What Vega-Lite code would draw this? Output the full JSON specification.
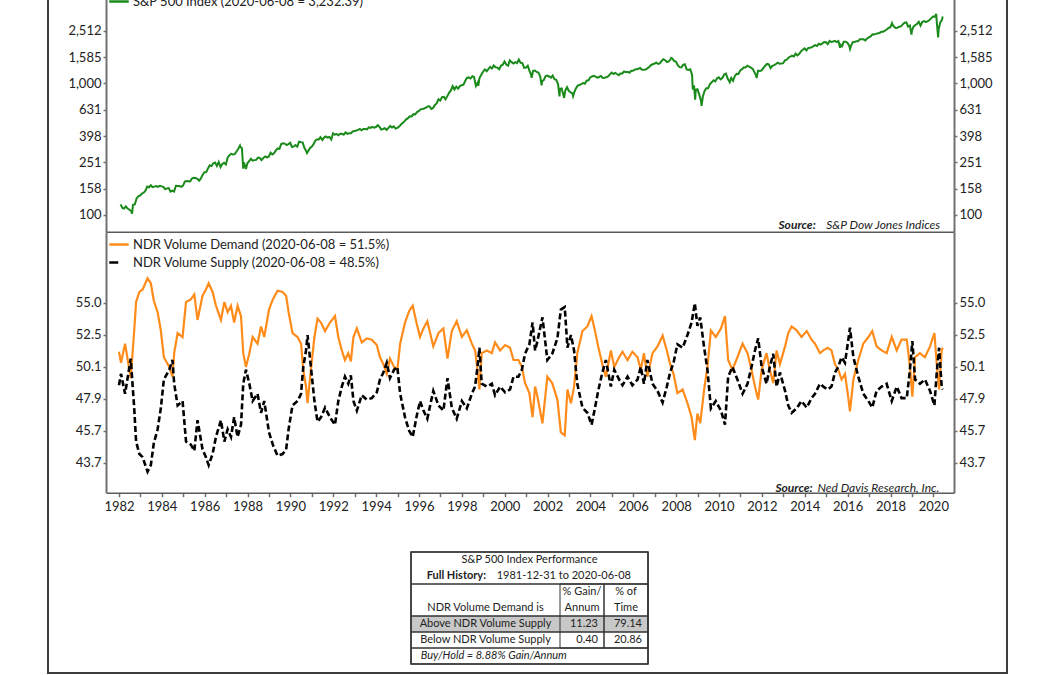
{
"$schema": "https://vega.github.io/schema/vega-lite/v6.json",
"width": 959, "height": 683,
"autosize": {"type": "none"},
"padding": {"left": 48, "right": 49, "top": -10, "bottom": 2},
"background": "white",
"config": {
  "font": "Lato",
  "view": {"stroke": "#3c3c3c", "strokeWidth": 2},
  "axis": {"labelFont": "Lato", "labelFontSize": 13, "labelColor": "#222222", "domainColor": "#707070", "domainWidth": 2, "tickColor": "#707070", "tickWidth": 1.5, "tickSize": 3, "labelPadding": 2, "grid": false, "labelFlush": false, "labelOverlap": false},
  "legend": {"labelFont": "Lato", "labelFontSize": 13, "labelColor": "#222222", "symbolType": "stroke", "symbolSize": 380, "symbolStrokeWidth": 2.5, "labelOffset": 3, "padding": 0, "rowPadding": -1.3, "offset": 0, "labelLimit": 400},
  "text": {"font": "Lato", "color": "#222222"}
},
"datasets": {
"sp": [
{"d":"1982-01-28","v":120.4},{"d":"1982-02-28","v":113.1},{"d":"1982-03-28","v":111.96},{"d":"1982-04-28","v":116.4},{"d":"1982-05-28","v":111.9},{"d":"1982-06-28","v":109.6},{"d":"1982-07-28","v":107.1},{"d":"1982-08-12","v":102.4},{"d":"1982-08-28","v":119.5},{"d":"1982-09-28","v":120.4},{"d":"1982-10-28","v":133.7},{"d":"1982-11-28","v":138.5},{"d":"1982-12-28","v":140.6},
{"d":"1983-01-28","v":145.3},{"d":"1983-02-28","v":148.1},{"d":"1983-03-28","v":152.96},{"d":"1983-04-28","v":164.4},{"d":"1983-05-28","v":162.4},{"d":"1983-06-28","v":168.1},{"d":"1983-07-28","v":162.6},{"d":"1983-08-28","v":164.4},{"d":"1983-09-28","v":166.1},{"d":"1983-10-28","v":163.6},{"d":"1983-11-28","v":166.4},{"d":"1983-12-28","v":164.9},
{"d":"1984-01-28","v":163.4},{"d":"1984-02-28","v":157.1},{"d":"1984-03-28","v":159.2},{"d":"1984-04-28","v":160.05},{"d":"1984-05-28","v":150.55},{"d":"1984-06-28","v":153.2},{"d":"1984-07-28","v":150.7},{"d":"1984-08-28","v":166.7},{"d":"1984-09-28","v":166.1},{"d":"1984-10-28","v":166.1},{"d":"1984-11-28","v":163.6},{"d":"1984-12-28","v":167.2},
{"d":"1985-01-28","v":179.6},{"d":"1985-02-28","v":181.2},{"d":"1985-03-28","v":180.7},{"d":"1985-04-28","v":179.8},{"d":"1985-05-28","v":189.55},{"d":"1985-06-28","v":191.85},{"d":"1985-07-28","v":190.9},{"d":"1985-08-28","v":188.6},{"d":"1985-09-28","v":182.1},{"d":"1985-10-28","v":189.8},{"d":"1985-11-28","v":202.2},{"d":"1985-12-28","v":211.3},
{"d":"1986-01-28","v":211.8},{"d":"1986-02-28","v":226.9},{"d":"1986-03-28","v":238.9},{"d":"1986-04-28","v":235.5},{"d":"1986-05-28","v":247.35},{"d":"1986-06-28","v":250.8},{"d":"1986-07-28","v":236.1},{"d":"1986-08-28","v":252.9},{"d":"1986-09-28","v":231.3},{"d":"1986-10-28","v":244.0},{"d":"1986-11-28","v":249.2},{"d":"1986-12-28","v":242.2},
{"d":"1987-01-28","v":274.1},{"d":"1987-02-28","v":284.2},{"d":"1987-03-28","v":291.7},{"d":"1987-04-28","v":288.4},{"d":"1987-05-28","v":290.1},{"d":"1987-06-28","v":304.0},{"d":"1987-07-28","v":318.7},{"d":"1987-08-25","v":336.8},{"d":"1987-08-31","v":329.8},{"d":"1987-09-28","v":321.8},{"d":"1987-10-19","v":224.8},{"d":"1987-10-30","v":251.8},{"d":"1987-11-28","v":230.3},{"d":"1987-12-04","v":223.9},{"d":"1987-12-30","v":247.1},
{"d":"1988-01-28","v":257.1},{"d":"1988-02-28","v":267.8},{"d":"1988-03-28","v":258.9},{"d":"1988-04-28","v":261.3},{"d":"1988-05-28","v":262.2},{"d":"1988-06-28","v":273.5},{"d":"1988-07-28","v":272.0},{"d":"1988-08-28","v":261.5},{"d":"1988-09-28","v":271.9},{"d":"1988-10-28","v":279.0},{"d":"1988-11-28","v":273.7},{"d":"1988-12-28","v":277.7},
{"d":"1989-01-28","v":297.5},{"d":"1989-02-28","v":288.9},{"d":"1989-03-28","v":294.9},{"d":"1989-04-28","v":309.6},{"d":"1989-05-28","v":320.5},{"d":"1989-06-28","v":318.0},{"d":"1989-07-28","v":346.1},{"d":"1989-08-28","v":351.45},{"d":"1989-09-28","v":349.2},{"d":"1989-10-28","v":340.4},{"d":"1989-11-28","v":346.0},{"d":"1989-12-28","v":353.4},
{"d":"1990-01-28","v":329.1},{"d":"1990-02-28","v":331.9},{"d":"1990-03-28","v":339.9},{"d":"1990-04-28","v":330.8},{"d":"1990-05-28","v":361.2},{"d":"1990-06-28","v":358.0},{"d":"1990-07-28","v":356.2},{"d":"1990-08-28","v":322.6},{"d":"1990-09-28","v":306.05},{"d":"1990-10-11","v":295.5},{"d":"1990-10-28","v":304.0},{"d":"1990-11-28","v":322.2},{"d":"1990-12-28","v":330.2},
{"d":"1991-01-28","v":343.9},{"d":"1991-02-28","v":367.1},{"d":"1991-03-28","v":375.2},{"d":"1991-04-28","v":375.3},{"d":"1991-05-28","v":389.8},{"d":"1991-06-28","v":371.2},{"d":"1991-07-28","v":387.8},{"d":"1991-08-28","v":395.4},{"d":"1991-09-28","v":387.9},{"d":"1991-10-28","v":392.5},{"d":"1991-11-28","v":375.2},{"d":"1991-12-28","v":417.1},
{"d":"1992-01-28","v":408.8},{"d":"1992-02-28","v":412.7},{"d":"1992-03-28","v":403.7},{"d":"1992-04-28","v":414.95},{"d":"1992-05-28","v":415.35},{"d":"1992-06-28","v":408.1},{"d":"1992-07-28","v":424.2},{"d":"1992-08-28","v":414.0},{"d":"1992-09-28","v":417.8},{"d":"1992-10-28","v":418.7},{"d":"1992-11-28","v":431.35},{"d":"1992-12-28","v":435.7},
{"d":"1993-01-28","v":438.8},{"d":"1993-02-28","v":443.4},{"d":"1993-03-28","v":451.7},{"d":"1993-04-28","v":440.2},{"d":"1993-05-28","v":450.2},{"d":"1993-06-28","v":450.5},{"d":"1993-07-28","v":448.1},{"d":"1993-08-28","v":463.6},{"d":"1993-09-28","v":458.9},{"d":"1993-10-28","v":467.8},{"d":"1993-11-28","v":461.8},{"d":"1993-12-28","v":466.45},
{"d":"1994-01-28","v":481.6},{"d":"1994-02-28","v":467.1},{"d":"1994-03-28","v":445.8},{"d":"1994-04-28","v":450.9},{"d":"1994-05-28","v":456.5},{"d":"1994-06-28","v":444.3},{"d":"1994-07-28","v":458.3},{"d":"1994-08-28","v":475.5},{"d":"1994-09-28","v":462.7},{"d":"1994-10-28","v":472.35},{"d":"1994-11-28","v":453.7},{"d":"1994-12-28","v":459.3},
{"d":"1995-01-28","v":470.4},{"d":"1995-02-28","v":487.4},{"d":"1995-03-28","v":500.7},{"d":"1995-04-28","v":514.7},{"d":"1995-05-28","v":533.4},{"d":"1995-06-28","v":544.75},{"d":"1995-07-28","v":562.1},{"d":"1995-08-28","v":561.9},{"d":"1995-09-28","v":584.4},{"d":"1995-10-28","v":581.5},{"d":"1995-11-28","v":605.4},{"d":"1995-12-28","v":615.9},
{"d":"1996-01-28","v":636.0},{"d":"1996-02-28","v":640.4},{"d":"1996-03-28","v":645.5},{"d":"1996-04-28","v":654.2},{"d":"1996-05-28","v":669.1},{"d":"1996-06-28","v":670.6},{"d":"1996-07-28","v":640.0},{"d":"1996-08-28","v":652.0},{"d":"1996-09-28","v":687.3},{"d":"1996-10-28","v":705.3},{"d":"1996-11-28","v":757.0},{"d":"1996-12-28","v":740.7},
{"d":"1997-01-28","v":786.2},{"d":"1997-02-28","v":790.8},{"d":"1997-03-28","v":757.1},{"d":"1997-04-28","v":801.3},{"d":"1997-05-28","v":848.3},{"d":"1997-06-28","v":885.1},{"d":"1997-07-28","v":954.3},{"d":"1997-08-28","v":899.5},{"d":"1997-09-28","v":947.3},{"d":"1997-10-28","v":914.6},{"d":"1997-11-28","v":955.4},{"d":"1997-12-28","v":970.4},
{"d":"1998-01-28","v":980.3},{"d":"1998-02-28","v":1049.3},{"d":"1998-03-28","v":1101.75},{"d":"1998-04-28","v":1111.75},{"d":"1998-05-28","v":1090.8},{"d":"1998-06-28","v":1133.8},{"d":"1998-07-28","v":1120.7},{"d":"1998-08-28","v":957.3},{"d":"1998-09-28","v":1017.0},{"d":"1998-10-08","v":959.4},{"d":"1998-10-28","v":1098.7},{"d":"1998-11-28","v":1163.6},{"d":"1998-12-28","v":1229.2},
{"d":"1999-01-28","v":1279.6},{"d":"1999-02-28","v":1238.3},{"d":"1999-03-28","v":1286.4},{"d":"1999-04-28","v":1335.2},{"d":"1999-05-28","v":1301.8},{"d":"1999-06-28","v":1372.7},{"d":"1999-07-28","v":1328.7},{"d":"1999-08-28","v":1320.4},{"d":"1999-09-28","v":1282.7},{"d":"1999-10-28","v":1362.9},{"d":"1999-11-28","v":1388.9},{"d":"1999-12-28","v":1469.25},
{"d":"2000-01-28","v":1394.5},{"d":"2000-02-28","v":1366.4},{"d":"2000-03-28","v":1498.6},{"d":"2000-04-28","v":1452.4},{"d":"2000-05-28","v":1420.6},{"d":"2000-06-28","v":1454.6},{"d":"2000-07-28","v":1430.8},{"d":"2000-08-28","v":1517.7},{"d":"2000-09-28","v":1436.5},{"d":"2000-10-28","v":1429.4},{"d":"2000-11-28","v":1315.2},{"d":"2000-12-28","v":1320.3},
{"d":"2001-01-28","v":1366.0},{"d":"2001-02-28","v":1239.9},{"d":"2001-03-28","v":1160.3},{"d":"2001-04-04","v":1103.3},{"d":"2001-04-28","v":1249.5},{"d":"2001-05-28","v":1255.8},{"d":"2001-06-28","v":1224.4},{"d":"2001-07-28","v":1211.2},{"d":"2001-08-28","v":1133.6},{"d":"2001-09-21","v":965.8},{"d":"2001-09-30","v":1040.9},{"d":"2001-10-28","v":1059.8},{"d":"2001-11-28","v":1139.5},{"d":"2001-12-28","v":1148.1},
{"d":"2002-01-28","v":1130.2},{"d":"2002-02-28","v":1106.7},{"d":"2002-03-28","v":1147.4},{"d":"2002-04-28","v":1076.9},{"d":"2002-05-28","v":1067.1},{"d":"2002-06-28","v":989.8},{"d":"2002-07-23","v":797.7},{"d":"2002-07-31","v":911.6},{"d":"2002-08-28","v":916.1},{"d":"2002-09-28","v":815.3},{"d":"2002-10-09","v":776.8},{"d":"2002-10-31","v":885.8},{"d":"2002-11-28","v":936.3},{"d":"2002-12-28","v":879.8},
{"d":"2003-01-28","v":855.7},{"d":"2003-02-28","v":841.2},{"d":"2003-03-11","v":800.7},{"d":"2003-03-28","v":848.2},{"d":"2003-04-28","v":916.9},{"d":"2003-05-28","v":963.6},{"d":"2003-06-28","v":974.5},{"d":"2003-07-28","v":990.3},{"d":"2003-08-28","v":1008.0},{"d":"2003-09-28","v":996.0},{"d":"2003-10-28","v":1050.7},{"d":"2003-11-28","v":1058.2},{"d":"2003-12-28","v":1111.9},
{"d":"2004-01-28","v":1131.1},{"d":"2004-02-28","v":1144.9},{"d":"2004-03-28","v":1126.2},{"d":"2004-04-28","v":1107.3},{"d":"2004-05-28","v":1120.7},{"d":"2004-06-28","v":1140.8},{"d":"2004-07-28","v":1101.7},{"d":"2004-08-28","v":1104.2},{"d":"2004-09-28","v":1114.6},{"d":"2004-10-28","v":1130.2},{"d":"2004-11-28","v":1173.8},{"d":"2004-12-28","v":1211.9},
{"d":"2005-01-28","v":1181.3},{"d":"2005-02-28","v":1203.6},{"d":"2005-03-28","v":1180.6},{"d":"2005-04-28","v":1156.85},{"d":"2005-05-28","v":1191.5},{"d":"2005-06-28","v":1191.3},{"d":"2005-07-28","v":1234.2},{"d":"2005-08-28","v":1220.3},{"d":"2005-09-28","v":1228.8},{"d":"2005-10-28","v":1207.0},{"d":"2005-11-28","v":1249.5},{"d":"2005-12-28","v":1248.3},
{"d":"2006-01-28","v":1280.1},{"d":"2006-02-28","v":1280.7},{"d":"2006-03-28","v":1294.8},{"d":"2006-04-28","v":1310.6},{"d":"2006-05-28","v":1270.1},{"d":"2006-06-28","v":1270.2},{"d":"2006-07-28","v":1276.7},{"d":"2006-08-28","v":1303.8},{"d":"2006-09-28","v":1335.85},{"d":"2006-10-28","v":1377.9},{"d":"2006-11-28","v":1400.6},{"d":"2006-12-28","v":1418.3},
{"d":"2007-01-28","v":1438.2},{"d":"2007-02-28","v":1406.8},{"d":"2007-03-28","v":1420.9},{"d":"2007-04-28","v":1482.4},{"d":"2007-05-28","v":1530.6},{"d":"2007-06-28","v":1503.35},{"d":"2007-07-28","v":1455.3},{"d":"2007-08-28","v":1474.0},{"d":"2007-09-28","v":1526.75},{"d":"2007-10-09","v":1565.2},{"d":"2007-10-28","v":1549.4},{"d":"2007-11-28","v":1481.1},{"d":"2007-12-28","v":1468.4},
{"d":"2008-01-28","v":1378.55},{"d":"2008-02-28","v":1330.6},{"d":"2008-03-28","v":1322.7},{"d":"2008-04-28","v":1385.6},{"d":"2008-05-28","v":1400.4},{"d":"2008-06-28","v":1280.0},{"d":"2008-07-28","v":1267.4},{"d":"2008-08-28","v":1282.8},{"d":"2008-09-28","v":1166.4},{"d":"2008-10-10","v":899.2},{"d":"2008-10-31","v":968.75},{"d":"2008-11-20","v":752.4},{"d":"2008-11-30","v":896.2},{"d":"2008-12-28","v":903.25},
{"d":"2009-01-28","v":825.9},{"d":"2009-02-28","v":735.1},{"d":"2009-03-09","v":676.5},{"d":"2009-03-31","v":797.9},{"d":"2009-04-28","v":872.8},{"d":"2009-05-28","v":919.1},{"d":"2009-06-28","v":919.3},{"d":"2009-07-28","v":987.5},{"d":"2009-08-28","v":1020.6},{"d":"2009-09-28","v":1057.1},{"d":"2009-10-28","v":1036.2},{"d":"2009-11-28","v":1095.6},{"d":"2009-12-28","v":1115.1},
{"d":"2010-01-28","v":1073.9},{"d":"2010-02-28","v":1104.5},{"d":"2010-03-28","v":1169.4},{"d":"2010-04-28","v":1186.7},{"d":"2010-05-28","v":1089.4},{"d":"2010-06-28","v":1030.7},{"d":"2010-07-02","v":1022.6},{"d":"2010-07-28","v":1101.6},{"d":"2010-08-28","v":1049.3},{"d":"2010-09-28","v":1141.2},{"d":"2010-10-28","v":1183.3},{"d":"2010-11-28","v":1180.55},{"d":"2010-12-28","v":1257.6},
{"d":"2011-01-28","v":1286.1},{"d":"2011-02-28","v":1327.2},{"d":"2011-03-28","v":1325.8},{"d":"2011-04-28","v":1363.6},{"d":"2011-05-28","v":1345.2},{"d":"2011-06-28","v":1320.6},{"d":"2011-07-28","v":1292.3},{"d":"2011-08-28","v":1218.9},{"d":"2011-09-28","v":1131.4},{"d":"2011-10-03","v":1099.2},{"d":"2011-10-28","v":1253.3},{"d":"2011-11-28","v":1247.0},{"d":"2011-12-28","v":1257.6},
{"d":"2012-01-28","v":1312.4},{"d":"2012-02-28","v":1365.7},{"d":"2012-03-28","v":1408.5},{"d":"2012-04-28","v":1397.9},{"d":"2012-05-28","v":1310.3},{"d":"2012-06-28","v":1362.2},{"d":"2012-07-28","v":1379.3},{"d":"2012-08-28","v":1406.6},{"d":"2012-09-28","v":1440.7},{"d":"2012-10-28","v":1412.2},{"d":"2012-11-28","v":1416.2},{"d":"2012-12-28","v":1426.2},
{"d":"2013-01-28","v":1498.1},{"d":"2013-02-28","v":1514.7},{"d":"2013-03-28","v":1569.2},{"d":"2013-04-28","v":1597.6},{"d":"2013-05-28","v":1630.7},{"d":"2013-06-28","v":1606.3},{"d":"2013-07-28","v":1685.7},{"d":"2013-08-28","v":1633.0},{"d":"2013-09-28","v":1681.55},{"d":"2013-10-28","v":1756.5},{"d":"2013-11-28","v":1805.8},{"d":"2013-12-28","v":1848.4},
{"d":"2014-01-28","v":1782.6},{"d":"2014-02-28","v":1859.45},{"d":"2014-03-28","v":1872.3},{"d":"2014-04-28","v":1883.95},{"d":"2014-05-28","v":1923.6},{"d":"2014-06-28","v":1960.2},{"d":"2014-07-28","v":1930.7},{"d":"2014-08-28","v":2003.4},{"d":"2014-09-28","v":1972.3},{"d":"2014-10-28","v":2018.05},{"d":"2014-11-28","v":2067.6},{"d":"2014-12-28","v":2058.9},
{"d":"2015-01-28","v":1995.0},{"d":"2015-02-28","v":2104.5},{"d":"2015-03-28","v":2067.9},{"d":"2015-04-28","v":2085.5},{"d":"2015-05-28","v":2107.4},{"d":"2015-06-28","v":2063.1},{"d":"2015-07-28","v":2103.8},{"d":"2015-08-25","v":1867.6},{"d":"2015-08-31","v":1972.2},{"d":"2015-09-28","v":1920.0},{"d":"2015-10-28","v":2079.4},{"d":"2015-11-28","v":2080.4},{"d":"2015-12-28","v":2043.9},
{"d":"2016-01-28","v":1940.2},{"d":"2016-02-11","v":1829.1},{"d":"2016-02-28","v":1932.2},{"d":"2016-03-28","v":2059.7},{"d":"2016-04-28","v":2065.3},{"d":"2016-05-28","v":2097.0},{"d":"2016-06-28","v":2098.9},{"d":"2016-07-28","v":2173.6},{"d":"2016-08-28","v":2171.0},{"d":"2016-09-28","v":2168.3},{"d":"2016-10-28","v":2126.15},{"d":"2016-11-28","v":2198.8},{"d":"2016-12-28","v":2238.8},
{"d":"2017-01-28","v":2278.9},{"d":"2017-02-28","v":2363.6},{"d":"2017-03-28","v":2362.7},{"d":"2017-04-28","v":2384.2},{"d":"2017-05-28","v":2411.8},{"d":"2017-06-28","v":2423.4},{"d":"2017-07-28","v":2470.3},{"d":"2017-08-28","v":2471.65},{"d":"2017-09-28","v":2519.4},{"d":"2017-10-28","v":2575.3},{"d":"2017-11-28","v":2647.6},{"d":"2017-12-28","v":2673.6},
{"d":"2018-01-26","v":2872.9},{"d":"2018-01-31","v":2823.8},{"d":"2018-02-28","v":2713.8},{"d":"2018-03-28","v":2640.9},{"d":"2018-04-28","v":2648.05},{"d":"2018-05-28","v":2705.3},{"d":"2018-06-28","v":2718.4},{"d":"2018-07-28","v":2816.3},{"d":"2018-08-28","v":2901.5},{"d":"2018-09-28","v":2914.0},{"d":"2018-10-28","v":2711.7},{"d":"2018-11-28","v":2760.2},{"d":"2018-12-24","v":2351.1},{"d":"2018-12-31","v":2506.85},
{"d":"2019-01-28","v":2704.1},{"d":"2019-02-28","v":2784.5},{"d":"2019-03-28","v":2834.4},{"d":"2019-04-28","v":2945.8},{"d":"2019-05-28","v":2752.1},{"d":"2019-06-28","v":2941.8},{"d":"2019-07-28","v":2980.4},{"d":"2019-08-28","v":2926.5},{"d":"2019-09-28","v":2976.7},{"d":"2019-10-28","v":3037.6},{"d":"2019-11-28","v":3141.0},{"d":"2019-12-28","v":3230.8},
{"d":"2020-01-28","v":3225.5},{"d":"2020-02-19","v":3386.15},{"d":"2020-02-28","v":2954.2},{"d":"2020-03-23","v":2237.4},{"d":"2020-03-31","v":2584.6},{"d":"2020-04-28","v":2912.4},{"d":"2020-05-28","v":3044.3},{"d":"2020-06-08","v":3232.39}
],
"ndr": [
{"d":"1982-01-01","a":51.2,"b":48.8},{"d":"1982-02-05","a":50.4,"b":49.6},{"d":"1982-04-15","a":51.8,"b":48.2},{"d":"1982-07-20","a":49.3,"b":50.7},{"d":"1982-09-15","a":52.6,"b":47.4},{"d":"1982-10-20","a":55.0,"b":45.0},{"d":"1982-12-15","a":55.8,"b":44.2},
{"d":"1983-02-08","a":56.0,"b":44.0},{"d":"1983-05-03","a":56.9,"b":43.1},{"d":"1983-06-28","a":56.5,"b":43.5},{"d":"1983-08-18","a":55.1,"b":44.9},{"d":"1983-10-22","a":54.2,"b":45.8},{"d":"1983-12-15","a":52.8,"b":47.2},
{"d":"1984-02-05","a":50.8,"b":49.2},{"d":"1984-05-08","a":50.1,"b":49.9},{"d":"1984-07-01","a":49.4,"b":50.6},{"d":"1984-07-30","a":51.1,"b":48.9},{"d":"1984-09-27","a":52.6,"b":47.4},{"d":"1984-12-20","a":52.3,"b":47.7},
{"d":"1985-02-17","a":55.0,"b":45.0},{"d":"1985-05-10","a":55.2,"b":44.8},{"d":"1985-07-08","a":55.6,"b":44.4},{"d":"1985-09-01","a":53.6,"b":46.4},{"d":"1985-11-25","a":55.5,"b":44.5},
{"d":"1986-01-22","a":56.0,"b":44.0},{"d":"1986-03-10","a":56.5,"b":43.5},{"d":"1986-05-15","a":55.8,"b":44.2},{"d":"1986-07-12","a":54.7,"b":45.3},{"d":"1986-10-05","a":53.6,"b":46.4},{"d":"1986-12-02","a":55.0,"b":45.0},
{"d":"1987-01-27","a":54.2,"b":45.8},{"d":"1987-03-25","a":54.7,"b":45.3},{"d":"1987-05-18","a":53.4,"b":46.6},{"d":"1987-07-15","a":54.7,"b":45.3},{"d":"1987-09-12","a":53.9,"b":46.1},{"d":"1987-10-20","a":51.1,"b":48.9},{"d":"1987-12-05","a":50.1,"b":49.9},
{"d":"1988-02-01","a":51.1,"b":48.9},{"d":"1988-03-28","a":52.3,"b":47.7},{"d":"1988-06-20","a":51.8,"b":48.2},{"d":"1988-08-18","a":53.1,"b":46.9},{"d":"1988-10-12","a":52.3,"b":47.7},
{"d":"1989-01-01","a":54.4,"b":45.6},{"d":"1989-03-07","a":55.2,"b":44.8},{"d":"1989-05-26","a":55.9,"b":44.1},{"d":"1989-08-20","a":55.8,"b":44.2},{"d":"1989-10-20","a":55.5,"b":44.5},{"d":"1989-12-01","a":54.2,"b":45.8},
{"d":"1990-02-05","a":52.6,"b":47.4},{"d":"1990-05-03","a":52.3,"b":47.7},{"d":"1990-07-01","a":51.8,"b":48.2},{"d":"1990-08-08","a":49.9,"b":50.1},{"d":"1990-09-24","a":48.7,"b":51.3},{"d":"1990-10-20","a":47.55,"b":52.45},{"d":"1990-12-16","a":49.9,"b":50.1},
{"d":"1991-02-14","a":52.3,"b":47.7},{"d":"1991-04-08","a":53.7,"b":46.3},{"d":"1991-06-05","a":53.4,"b":46.6},{"d":"1991-08-14","a":52.75,"b":47.25},{"d":"1991-11-06","a":53.4,"b":46.6},
{"d":"1992-01-30","a":53.9,"b":46.1},{"d":"1992-03-27","a":52.3,"b":47.7},{"d":"1992-05-26","a":51.3,"b":48.7},{"d":"1992-07-18","a":50.6,"b":49.4},{"d":"1992-09-13","a":51.1,"b":48.9},{"d":"1992-10-27","a":50.5,"b":49.5},{"d":"1992-12-10","a":52.3,"b":47.7},
{"d":"1993-02-06","a":52.95,"b":47.05},{"d":"1993-05-01","a":51.9,"b":48.1},{"d":"1993-07-24","a":52.2,"b":47.8},{"d":"1993-10-19","a":52.1,"b":47.9},
{"d":"1994-01-12","a":51.7,"b":48.3},{"d":"1994-03-07","a":50.8,"b":49.2},{"d":"1994-05-04","a":50.3,"b":49.7},{"d":"1994-07-01","a":49.6,"b":50.4},{"d":"1994-08-25","a":50.7,"b":49.3},{"d":"1994-11-03","a":50.1,"b":49.9},{"d":"1994-12-28","a":49.9,"b":50.1},
{"d":"1995-02-14","a":51.8,"b":48.2},{"d":"1995-05-08","a":53.4,"b":46.6},{"d":"1995-07-18","a":54.3,"b":45.7},{"d":"1995-09-16","a":54.7,"b":45.3},{"d":"1995-11-24","a":53.3,"b":46.7},
{"d":"1996-01-19","a":52.3,"b":47.7},{"d":"1996-03-17","a":52.95,"b":47.05},{"d":"1996-05-22","a":53.5,"b":46.5},{"d":"1996-09-01","a":51.6,"b":48.4},{"d":"1996-11-28","a":52.6,"b":47.4},
{"d":"1997-02-20","a":52.95,"b":47.05},{"d":"1997-05-01","a":50.7,"b":49.3},{"d":"1997-07-13","a":52.75,"b":47.25},{"d":"1997-10-05","a":53.5,"b":46.5},
{"d":"1998-01-01","a":52.3,"b":47.7},{"d":"1998-03-26","a":52.8,"b":47.2},{"d":"1998-06-20","a":51.8,"b":48.2},{"d":"1998-08-14","a":51.3,"b":48.7},{"d":"1998-09-24","a":49.9,"b":50.1},{"d":"1998-10-27","a":48.5,"b":51.5},{"d":"1998-12-05","a":51.1,"b":48.9},
{"d":"1999-03-03","a":51.3,"b":48.7},{"d":"1999-05-26","a":51.1,"b":48.9},{"d":"1999-07-20","a":51.9,"b":48.1},{"d":"1999-10-15","a":51.3,"b":48.7},
{"d":"2000-01-08","a":51.7,"b":48.3},{"d":"2000-04-01","a":51.5,"b":48.5},{"d":"2000-05-30","a":50.6,"b":49.4},{"d":"2000-08-22","a":50.6,"b":49.4},{"d":"2000-10-20","a":50.1,"b":49.9},{"d":"2000-12-12","a":48.95,"b":51.05},
{"d":"2001-02-24","a":48.25,"b":51.75},{"d":"2001-04-20","a":46.6,"b":53.4},{"d":"2001-06-02","a":48.7,"b":51.3},{"d":"2001-07-12","a":48.0,"b":52.0},{"d":"2001-10-05","a":46.2,"b":53.8},{"d":"2001-12-28","a":49.4,"b":50.6},
{"d":"2002-03-20","a":48.95,"b":51.05},{"d":"2002-06-17","a":47.8,"b":52.2},{"d":"2002-08-15","a":45.6,"b":54.4},{"d":"2002-10-20","a":45.4,"b":54.6},{"d":"2002-12-05","a":48.5,"b":51.5},
{"d":"2003-02-03","a":47.55,"b":52.45},{"d":"2003-03-28","a":48.7,"b":51.3},{"d":"2003-05-22","a":51.1,"b":48.9},{"d":"2003-08-18","a":52.75,"b":47.25},{"d":"2003-11-10","a":53.1,"b":46.9},
{"d":"2004-01-20","a":53.9,"b":46.1},{"d":"2004-03-17","a":52.8,"b":47.2},{"d":"2004-05-12","a":51.6,"b":48.4},{"d":"2004-07-22","a":50.3,"b":49.7},{"d":"2004-09-20","a":49.4,"b":50.6},{"d":"2004-12-14","a":51.3,"b":48.7},
{"d":"2005-02-10","a":50.1,"b":49.9},{"d":"2005-05-04","a":50.8,"b":49.2},{"d":"2005-07-01","a":51.2,"b":48.8},{"d":"2005-09-24","a":50.6,"b":49.4},{"d":"2005-12-16","a":51.2,"b":48.8},
{"d":"2006-03-14","a":50.8,"b":49.2},{"d":"2006-05-08","a":49.9,"b":50.1},{"d":"2006-07-01","a":51.1,"b":48.9},{"d":"2006-08-28","a":49.4,"b":50.6},{"d":"2006-11-24","a":51.1,"b":48.9},
{"d":"2007-02-17","a":51.6,"b":48.4},{"d":"2007-05-15","a":52.4,"b":47.6},{"d":"2007-07-26","a":51.3,"b":48.7},{"d":"2007-09-20","a":50.3,"b":49.7},{"d":"2007-11-17","a":49.6,"b":50.4},
{"d":"2008-01-22","a":48.25,"b":51.75},{"d":"2008-04-20","a":48.5,"b":51.5},{"d":"2008-07-12","a":47.55,"b":52.45},{"d":"2008-09-20","a":46.6,"b":53.4},{"d":"2008-11-14","a":45.1,"b":54.9},{"d":"2008-12-28","a":46.85,"b":53.15},
{"d":"2009-02-14","a":46.2,"b":53.8},{"d":"2009-04-22","a":48.5,"b":51.5},{"d":"2009-06-17","a":50.1,"b":49.9},{"d":"2009-08-15","a":52.8,"b":47.2},{"d":"2009-11-06","a":52.3,"b":47.7},
{"d":"2010-02-03","a":52.95,"b":47.05},{"d":"2010-04-12","a":53.9,"b":46.1},{"d":"2010-06-05","a":50.6,"b":49.4},{"d":"2010-08-17","a":49.9,"b":50.1},{"d":"2010-11-10","a":50.8,"b":49.2},
{"d":"2011-02-06","a":51.8,"b":48.2},{"d":"2011-05-01","a":51.1,"b":48.9},{"d":"2011-07-08","a":49.9,"b":50.1},{"d":"2011-09-05","a":48.7,"b":51.3},{"d":"2011-10-30","a":47.8,"b":52.2},{"d":"2011-12-28","a":49.9,"b":50.1},
{"d":"2012-03-20","a":51.1,"b":48.9},{"d":"2012-05-15","a":49.9,"b":50.1},{"d":"2012-07-12","a":48.95,"b":51.05},{"d":"2012-09-08","a":51.3,"b":48.7},{"d":"2012-11-03","a":50.3,"b":49.7},
{"d":"2013-01-30","a":51.6,"b":48.4},{"d":"2013-03-25","a":52.6,"b":47.4},{"d":"2013-05-22","a":53.1,"b":46.9},{"d":"2013-08-15","a":52.8,"b":47.2},{"d":"2013-11-06","a":52.3,"b":47.7},
{"d":"2014-02-03","a":52.75,"b":47.25},{"d":"2014-04-27","a":52.1,"b":47.9},{"d":"2014-06-24","a":51.8,"b":48.2},{"d":"2014-09-16","a":51.1,"b":48.9},{"d":"2014-11-13","a":51.3,"b":48.7},
{"d":"2015-01-27","a":51.5,"b":48.5},{"d":"2015-04-01","a":51.3,"b":48.7},{"d":"2015-05-30","a":50.3,"b":49.7},{"d":"2015-07-26","a":49.9,"b":50.1},{"d":"2015-09-20","a":49.2,"b":50.8},{"d":"2015-11-17","a":49.6,"b":50.4},
{"d":"2016-01-10","a":48.0,"b":52.0},{"d":"2016-02-10","a":47.0,"b":53.0},{"d":"2016-04-08","a":49.2,"b":50.8},{"d":"2016-07-01","a":50.6,"b":49.4},{"d":"2016-09-24","a":51.8,"b":48.2},{"d":"2016-12-20","a":52.3,"b":47.7},
{"d":"2017-02-24","a":52.75,"b":47.25},{"d":"2017-05-08","a":51.6,"b":48.4},{"d":"2017-08-03","a":51.3,"b":48.7},{"d":"2017-10-27","a":51.1,"b":48.9},
{"d":"2018-01-22","a":52.3,"b":47.7},{"d":"2018-04-17","a":51.3,"b":48.7},{"d":"2018-07-08","a":52.1,"b":47.9},{"d":"2018-10-05","a":52.1,"b":47.9},{"d":"2018-11-28","a":50.1,"b":49.9},
{"d":"2019-01-08","a":48.0,"b":52.0},{"d":"2019-02-24","a":50.8,"b":49.2},{"d":"2019-05-18","a":51.1,"b":48.9},{"d":"2019-08-10","a":50.8,"b":49.2},{"d":"2019-11-06","a":51.6,"b":48.4},
{"d":"2020-01-19","a":52.6,"b":47.4},{"d":"2020-02-28","a":50.3,"b":49.7},{"d":"2020-04-08","a":48.5,"b":51.5},{"d":"2020-05-22","a":51.3,"b":48.7},{"d":"2020-06-08","a":51.5,"b":48.5}
]
},
"layer": [
{
  "layer": [
    {
      "data": {"name": "sp"},
      "mark": {"type": "line", "strokeWidth": 2},
      "encoding": {
        "x": {"field": "d", "type": "temporal",
              "scale": {"domain": [{"year": 1981, "month": 5, "date": 25, "utc": true}, {"year": 2020, "month": 12, "date": 18, "utc": true}], "range": [58, 906], "nice": false},
              "axis": {"orient": "bottom", "offset": -441.3, "labels": false, "ticks": false, "title": null, "domainWidth": 1.5, "domainColor": "#5a5a5a"}},
        "y": {"field": "v", "type": "quantitative",
              "scale": {"type": "log", "domain": [74.6, 5140], "range": [241.7, 0], "nice": false},
              "axis": {"orient": "left", "offset": -58, "values": [100, 158.489, 251.189, 398.107, 630.957, 1000, 1584.89, 2511.89], "format": ",.0f", "title": null}},
        "color": {"datum": "S&P 500 Index (2020-06-08 = 3,232.39)", "scale": {"range": ["#1a8a1a"]},
                  "legend": {"orient": "none", "legendX": 60, "legendY": 0.5, "title": null}}
      }
    },
    {
      "data": {"values": [{"label": "Source:"}]},
      "mark": {"type": "text", "align": "right", "baseline": "middle", "fontSize": 12, "fontStyle": "italic", "fontWeight": "bold"},
      "encoding": {
        "text": {"field": "label"},
        "x": {"datum": {"year": 2014, "month": 7, "date": 7, "utc": true}, "type": "temporal", "axis": null},
        "y": {"datum": 83.9, "type": "quantitative",
              "axis": {"orient": "right", "offset": -53, "values": [100, 158.489, 251.189, 398.107, 630.957, 1000, 1584.89, 2511.89], "format": ",.0f", "title": null}}
      }
    },
    {
      "data": {"values": [{"label": "S&P Dow Jones Indices"}]},
      "mark": {"type": "text", "align": "right", "baseline": "middle", "fontSize": 12, "fontStyle": "italic"},
      "encoding": {
        "text": {"field": "label"},
        "x": {"datum": {"year": 2020, "month": 4, "date": 24, "utc": true}, "type": "temporal", "axis": null},
        "y": {"datum": 83.9, "type": "quantitative", "axis": null}
      }
    }
  ],
  "resolve": {"axis": {"y": "independent", "x": "independent"}}
},
{
  "layer": [
    {
      "data": {"name": "ndr"},
      "mark": {"type": "line", "strokeWidth": 2.2},
      "encoding": {
        "x": {"field": "d", "type": "temporal",
              "scale": {"domain": [{"year": 1981, "month": 5, "date": 25, "utc": true}, {"year": 2020, "month": 12, "date": 18, "utc": true}], "range": [58, 906], "nice": false},
              "axis": {"orient": "bottom", "offset": -180.3, "title": null, "tickSize": 4, "labelPadding": 4, "domainWidth": 1.5, "domainColor": "#5a5a5a",
                       "values": [{"year":1982,"month":1,"date":1,"utc":true},{"year":1983,"month":1,"date":1,"utc":true},{"year":1984,"month":1,"date":1,"utc":true},{"year":1985,"month":1,"date":1,"utc":true},{"year":1986,"month":1,"date":1,"utc":true},{"year":1987,"month":1,"date":1,"utc":true},{"year":1988,"month":1,"date":1,"utc":true},{"year":1989,"month":1,"date":1,"utc":true},{"year":1990,"month":1,"date":1,"utc":true},{"year":1991,"month":1,"date":1,"utc":true},{"year":1992,"month":1,"date":1,"utc":true},{"year":1993,"month":1,"date":1,"utc":true},{"year":1994,"month":1,"date":1,"utc":true},{"year":1995,"month":1,"date":1,"utc":true},{"year":1996,"month":1,"date":1,"utc":true},{"year":1997,"month":1,"date":1,"utc":true},{"year":1998,"month":1,"date":1,"utc":true},{"year":1999,"month":1,"date":1,"utc":true},{"year":2000,"month":1,"date":1,"utc":true},{"year":2001,"month":1,"date":1,"utc":true},{"year":2002,"month":1,"date":1,"utc":true},{"year":2003,"month":1,"date":1,"utc":true},{"year":2004,"month":1,"date":1,"utc":true},{"year":2005,"month":1,"date":1,"utc":true},{"year":2006,"month":1,"date":1,"utc":true},{"year":2007,"month":1,"date":1,"utc":true},{"year":2008,"month":1,"date":1,"utc":true},{"year":2009,"month":1,"date":1,"utc":true},{"year":2010,"month":1,"date":1,"utc":true},{"year":2011,"month":1,"date":1,"utc":true},{"year":2012,"month":1,"date":1,"utc":true},{"year":2013,"month":1,"date":1,"utc":true},{"year":2014,"month":1,"date":1,"utc":true},{"year":2015,"month":1,"date":1,"utc":true},{"year":2016,"month":1,"date":1,"utc":true},{"year":2017,"month":1,"date":1,"utc":true},{"year":2018,"month":1,"date":1,"utc":true},{"year":2019,"month":1,"date":1,"utc":true},{"year":2020,"month":1,"date":1,"utc":true}],
                       "labelExpr": "utcyear(datum.value) % 2 == 0 ? utcFormat(datum.value, '%Y') : ''"}},
        "y": {"field": "a", "type": "quantitative",
              "scale": {"type": "log", "domain": [41.81, 60.85], "range": [502.7, 241.7], "nice": false},
              "axis": {"orient": "left", "offset": -58, "values": [43.652, 45.709, 47.863, 50.119, 52.481, 54.954], "format": ".1f", "title": null}},
        "color": {"datum": "NDR Volume Demand (2020-06-08 = 51.5%)",
                  "scale": {"domain": ["NDR Volume Demand (2020-06-08 = 51.5%)", "NDR Volume Supply (2020-06-08 = 48.5%)"], "range": ["#ff8c1a", "#000000"]},
                  "legend": {"orient": "none", "legendX": 60, "legendY": 243.5, "title": null,
                             "encode": {"symbols": {"update": {"strokeDash": {"signal": "indexof(datum.label, 'Supply') >= 0 ? [9, 30] : [40, 0]"}}}}}}
      }
    },
    {
      "data": {"name": "ndr"},
      "mark": {"type": "line", "strokeWidth": 2.6, "strokeDash": [6, 3]},
      "encoding": {
        "x": {"field": "d", "type": "temporal", "axis": null},
        "y": {"field": "b", "type": "quantitative",
              "axis": {"orient": "right", "offset": -53, "values": [43.652, 45.709, 47.863, 50.119, 52.481, 54.954], "format": ".1f", "title": null}},
        "color": {"datum": "NDR Volume Supply (2020-06-08 = 48.5%)"}
      }
    },
    {
      "data": {"values": [{"label": "Source:"}]},
      "mark": {"type": "text", "align": "right", "baseline": "middle", "fontSize": 12, "fontStyle": "italic", "fontWeight": "bold"},
      "encoding": {
        "text": {"field": "label"},
        "x": {"datum": {"year": 2014, "month": 5, "date": 16, "utc": true}, "type": "temporal", "axis": null},
        "y": {"datum": 42.1, "type": "quantitative", "axis": null}
      }
    },
    {
      "data": {"values": [{"label": "Ned Davis Research, Inc."}]},
      "mark": {"type": "text", "align": "right", "baseline": "middle", "fontSize": 12, "fontStyle": "italic"},
      "encoding": {
        "text": {"field": "label"},
        "x": {"datum": {"year": 2020, "month": 4, "date": 12, "utc": true}, "type": "temporal", "axis": null},
        "y": {"datum": 42.1, "type": "quantitative", "axis": null}
      }
    }
  ],
  "resolve": {"axis": {"y": "independent", "x": "independent"}}
},
{
  "layer": [
    {
      "data": {"values": [{"line": "r1", "span": "all"}]},
      "mark": {"type": "rect", "fill": "#c8c8c8"},
      "encoding": {
        "x": {"field": "span", "type": "nominal", "scale": {"domain": ["all"], "range": [363, 600], "paddingInner": 0, "paddingOuter": 0}, "axis": null},
        "y": {"field": "line", "type": "ordinal", "scale": {"domain": ["t1","t2","h1","h2","r1","r2","f","end"], "range": [562, 690], "paddingInner": 0, "paddingOuter": 0}, "axis": null}
      }
    },
    {
      "data": {"values": [{"top": "t1", "bot": "h1", "span": "all"}, {"top": "h1", "bot": "r1", "span": "all"}, {"top": "r1", "bot": "r2", "span": "all"}, {"top": "r2", "bot": "f", "span": "all"}, {"top": "f", "bot": "end", "span": "all"}]},
      "mark": {"type": "rect", "fillOpacity": 0, "stroke": "#333333", "strokeWidth": 1},
      "encoding": {
        "x": {"field": "span", "type": "nominal", "scale": {"domain": ["all"], "range": [363, 600], "paddingInner": 0, "paddingOuter": 0}, "axis": null},
        "y": {"field": "top", "type": "ordinal", "bandPosition": 0, "scale": {"domain": ["t1","t2","h1","h2","r1","r2","f","end"], "range": [562, 690], "paddingInner": 0, "paddingOuter": 0}, "axis": null},
        "y2": {"field": "bot", "bandPosition": 0}
      }
    },
    {
      "data": {"values": [{"col": "gain", "top": "h1", "bot": "f"}, {"col": "time", "top": "h1", "bot": "f"}]},
      "mark": {"type": "rect", "fillOpacity": 0, "stroke": "#333333", "strokeWidth": 1},
      "encoding": {
        "x": {"field": "col", "type": "nominal", "scale": {"domain": ["gain", "time"], "range": [512, 600], "paddingInner": 0, "paddingOuter": 0}, "axis": null},
        "y": {"field": "top", "type": "ordinal", "bandPosition": 0, "scale": {"domain": ["t1","t2","h1","h2","r1","r2","f","end"], "range": [562, 690], "paddingInner": 0, "paddingOuter": 0}, "axis": null},
        "y2": {"field": "bot", "bandPosition": 0}
      }
    },
    {
      "data": {"values": [{"top": "t1", "bot": "end", "span": "all"}]},
      "mark": {"type": "rect", "fillOpacity": 0, "stroke": "#333333", "strokeWidth": 1.6},
      "encoding": {
        "x": {"field": "span", "type": "nominal", "scale": {"domain": ["all"], "range": [363, 600], "paddingInner": 0, "paddingOuter": 0}, "axis": null},
        "y": {"field": "top", "type": "ordinal", "bandPosition": 0, "scale": {"domain": ["t1","t2","h1","h2","r1","r2","f","end"], "range": [562, 690], "paddingInner": 0, "paddingOuter": 0}, "axis": null},
        "y2": {"field": "bot", "bandPosition": 0}
      }
    },
    {
      "data": {"values": [{"line": "t1", "span": "all", "text": "S&P 500 Index Performance"}]},
      "mark": {"type": "text", "align": "center", "baseline": "middle", "fontSize": 11},
      "encoding": {
        "text": {"field": "text"},
        "x": {"field": "span", "type": "nominal", "scale": {"domain": ["all"], "range": [363, 600], "paddingInner": 0, "paddingOuter": 0}, "axis": null},
        "y": {"field": "line", "type": "ordinal", "scale": {"domain": ["t1","t2","h1","h2","r1","r2","f","end"], "range": [562, 690], "paddingInner": 0, "paddingOuter": 0}, "axis": null}
      }
    },
    {
      "data": {"values": [{"line": "t2", "span": "all", "text": "Full History:"}]},
      "mark": {"type": "text", "align": "right", "baseline": "middle", "fontSize": 11, "fontWeight": "bold", "dx": -43.5},
      "encoding": {
        "text": {"field": "text"},
        "x": {"field": "span", "type": "nominal", "scale": {"domain": ["all"], "range": [363, 600], "paddingInner": 0, "paddingOuter": 0}, "axis": null},
        "y": {"field": "line", "type": "ordinal", "scale": {"domain": ["t1","t2","h1","h2","r1","r2","f","end"], "range": [562, 690], "paddingInner": 0, "paddingOuter": 0}, "axis": null}
      }
    },
    {
      "data": {"values": [{"line": "t2", "span": "all", "text": "1981-12-31 to 2020-06-08"}]},
      "mark": {"type": "text", "align": "left", "baseline": "middle", "fontSize": 11, "dx": -32.8},
      "encoding": {
        "text": {"field": "text"},
        "x": {"field": "span", "type": "nominal", "scale": {"domain": ["all"], "range": [363, 600], "paddingInner": 0, "paddingOuter": 0}, "axis": null},
        "y": {"field": "line", "type": "ordinal", "scale": {"domain": ["t1","t2","h1","h2","r1","r2","f","end"], "range": [562, 690], "paddingInner": 0, "paddingOuter": 0}, "axis": null}
      }
    },
    {
      "data": {"values": [{"line": "f", "span": "all", "text": "Buy/Hold = 8.88% Gain/Annum"}]},
      "mark": {"type": "text", "align": "left", "baseline": "middle", "fontSize": 11, "fontStyle": "italic", "dx": -108.8},
      "encoding": {
        "text": {"field": "text"},
        "x": {"field": "span", "type": "nominal", "scale": {"domain": ["all"], "range": [363, 600], "paddingInner": 0, "paddingOuter": 0}, "axis": null},
        "y": {"field": "line", "type": "ordinal", "scale": {"domain": ["t1","t2","h1","h2","r1","r2","f","end"], "range": [562, 690], "paddingInner": 0, "paddingOuter": 0}, "axis": null}
      }
    },
    {
      "data": {"values": [{"line": "h2", "col": "label", "text": "NDR Volume Demand is"}, {"line": "r1", "col": "label", "text": "Above NDR Volume Supply"}, {"line": "r2", "col": "label", "text": "Below NDR Volume Supply"}]},
      "mark": {"type": "text", "align": "center", "baseline": "middle", "fontSize": 11},
      "encoding": {
        "text": {"field": "text"},
        "x": {"field": "col", "type": "nominal", "scale": {"domain": ["label"], "range": [363, 512], "paddingInner": 0, "paddingOuter": 0}, "axis": null},
        "y": {"field": "line", "type": "ordinal", "scale": {"domain": ["t1","t2","h1","h2","r1","r2","f","end"], "range": [562, 690], "paddingInner": 0, "paddingOuter": 0}, "axis": null}
      }
    },
    {
      "data": {"values": [{"line": "h1", "col": "gain", "text": "% Gain/"}, {"line": "h2", "col": "gain", "text": "Annum"}, {"line": "h1", "col": "time", "text": "% of"}, {"line": "h2", "col": "time", "text": "Time"}]},
      "mark": {"type": "text", "align": "center", "baseline": "middle", "fontSize": 11},
      "encoding": {
        "text": {"field": "text"},
        "x": {"field": "col", "type": "nominal", "scale": {"domain": ["gain", "time"], "range": [512, 600], "paddingInner": 0, "paddingOuter": 0}, "axis": null},
        "y": {"field": "line", "type": "ordinal", "scale": {"domain": ["t1","t2","h1","h2","r1","r2","f","end"], "range": [562, 690], "paddingInner": 0, "paddingOuter": 0}, "axis": null}
      }
    },
    {
      "data": {"values": [{"line": "r1", "col": "gain", "text": "11.23"}, {"line": "r1", "col": "time", "text": "79.14"}, {"line": "r2", "col": "gain", "text": "0.40"}, {"line": "r2", "col": "time", "text": "20.86"}]},
      "mark": {"type": "text", "align": "right", "baseline": "middle", "fontSize": 11, "dx": 16},
      "encoding": {
        "text": {"field": "text"},
        "x": {"field": "col", "type": "nominal", "scale": {"domain": ["gain", "time"], "range": [512, 600], "paddingInner": 0, "paddingOuter": 0}, "axis": null},
        "y": {"field": "line", "type": "ordinal", "scale": {"domain": ["t1","t2","h1","h2","r1","r2","f","end"], "range": [562, 690], "paddingInner": 0, "paddingOuter": 0}, "axis": null}
      }
    }
  ],
  "resolve": {"scale": {"x": "independent"}, "axis": {"x": "independent"}}
}
],
"resolve": {"scale": {"x": "independent", "y": "independent", "color": "independent"}, "axis": {"x": "independent", "y": "independent"}}
}
